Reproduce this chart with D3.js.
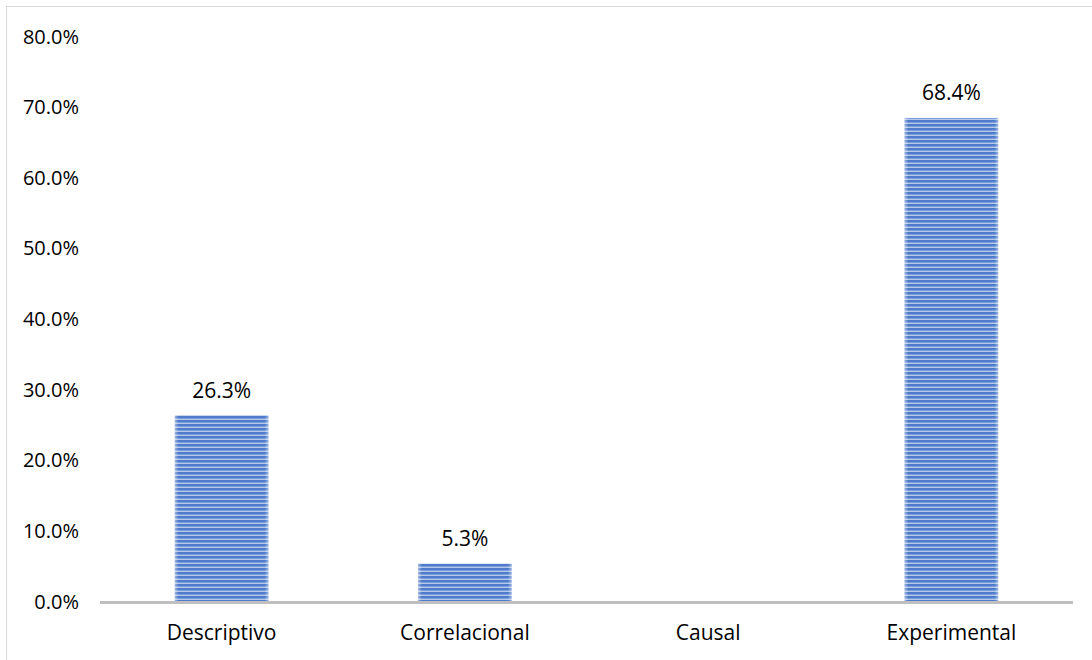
<!DOCTYPE html>
<html>
<head>
<meta charset="utf-8">
<script src="https://cdn.jsdelivr.net/npm/d3@7"></script>
<style>
  html, body { margin: 0; padding: 0; background: #fff; }
  svg { display: block; font-family: "Open Sans", "Noto Sans", sans-serif; }
</style>
</head>
<body>
<svg id="chart" width="1092" height="660"></svg>
<script>
// Research design types and their share of the studies reviewed
const categories = ["Descriptivo", "Correlacional", "Causal", "Experimental"];
const values = [26.3, 5.3, 0.0, 68.4];
const yTicks = [0, 10, 20, 30, 40, 50, 60, 70, 80];

const svg = d3.select("#chart");
const W = 1092, H = 660;
const plot = { left: 100, right: 1073, top: 36, bottom: 601 };

// Outer chart frame
svg.append("rect")
  .attr("x", 6.5).attr("y", 6.5)
  .attr("width", W + 10).attr("height", H + 10)
  .attr("fill", "none").attr("stroke", "#d9d9d9").attr("stroke-width", 1);

// Horizontal striped fill for the bars
const defs = svg.append("defs");
const pat = defs.append("pattern")
  .attr("id", "hstripe").attr("patternUnits", "userSpaceOnUse")
  .attr("width", 8).attr("height", 4);
pat.append("rect").attr("width", 8).attr("height", 4).attr("fill", "#4f7bca");
pat.append("rect").attr("y", 2).attr("width", 8).attr("height", 1).attr("fill", "#7d9fdc");
pat.append("rect").attr("y", 3).attr("width", 8).attr("height", 1).attr("fill", "#b4c7ea");

// Soft highlight at the bar's side edges
const edge = defs.append("linearGradient").attr("id", "edgeGlow")
  .attr("x1", 0).attr("x2", 1).attr("y1", 0).attr("y2", 0);
edge.append("stop").attr("offset", "0%").attr("stop-color", "#fff").attr("stop-opacity", 0.45);
edge.append("stop").attr("offset", "4%").attr("stop-color", "#fff").attr("stop-opacity", 0);
edge.append("stop").attr("offset", "96%").attr("stop-color", "#fff").attr("stop-opacity", 0);
edge.append("stop").attr("offset", "100%").attr("stop-color", "#fff").attr("stop-opacity", 0.45);

const x = d3.scaleBand()
  .domain(categories)
  .range([plot.left, plot.right])
  .paddingInner(0.615).paddingOuter(0.3075);

const y = d3.scaleLinear().domain([0, 80]).range([plot.bottom, plot.top]);

// Y axis labels (no axis line, no ticks)
const yAxis = d3.axisLeft(y)
  .tickValues(yTicks)
  .tickFormat(d => d.toFixed(1) + "%")
  .tickSize(0).tickPadding(0);
const yg = svg.append("g")
  .attr("transform", `translate(${79},0)`)
  .call(yAxis);
yg.select(".domain").remove();
yg.selectAll("text")
  .attr("font-family", "'Open Sans', 'Noto Sans', sans-serif")
  .attr("font-size", 20).attr("fill", "#000").attr("dy", "0.35em");

// Bars
const bars = svg.append("g");
const visible = categories.map((c, i) => ({ c, v: values[i] })).filter(d => d.v > 0);
bars.selectAll("rect.bar").data(visible).join("rect")
  .attr("class", "bar")
  .attr("x", d => x(d.c)).attr("width", x.bandwidth())
  .attr("y", d => y(d.v)).attr("height", d => y(0) - y(d.v))
  .attr("fill", "url(#hstripe)");
bars.selectAll("rect.glow").data(visible).join("rect")
  .attr("class", "glow")
  .attr("x", d => x(d.c)).attr("width", x.bandwidth())
  .attr("y", d => y(d.v)).attr("height", d => y(0) - y(d.v))
  .attr("fill", "url(#edgeGlow)");

// Value labels above bars
svg.append("g").selectAll("text").data(visible).join("text")
  .attr("x", d => x(d.c) + x.bandwidth() / 2)
  .attr("y", d => y(d.v) - 25)
  .attr("text-anchor", "middle").attr("dy", "0.35em")
  .attr("font-size", 21).attr("fill", "#000")
  .text(d => d.v.toFixed(1) + "%");

// Category axis
const xAxis = d3.axisBottom(x).tickSize(0).tickPadding(0);
const xg = svg.append("g")
  .attr("transform", `translate(0,${plot.bottom})`)
  .call(xAxis);
xg.select(".domain")
  .attr("stroke", "#bfbfbf").attr("stroke-width", 3)
  .attr("d", `M${plot.left},1.5H${plot.right}`);
xg.selectAll("text")
  .attr("font-family", "'Open Sans', 'Noto Sans', sans-serif")
  .attr("font-size", 21).attr("fill", "#000")
  .attr("y", 32).attr("dy", "0.35em");
</script>
</body>
</html>
